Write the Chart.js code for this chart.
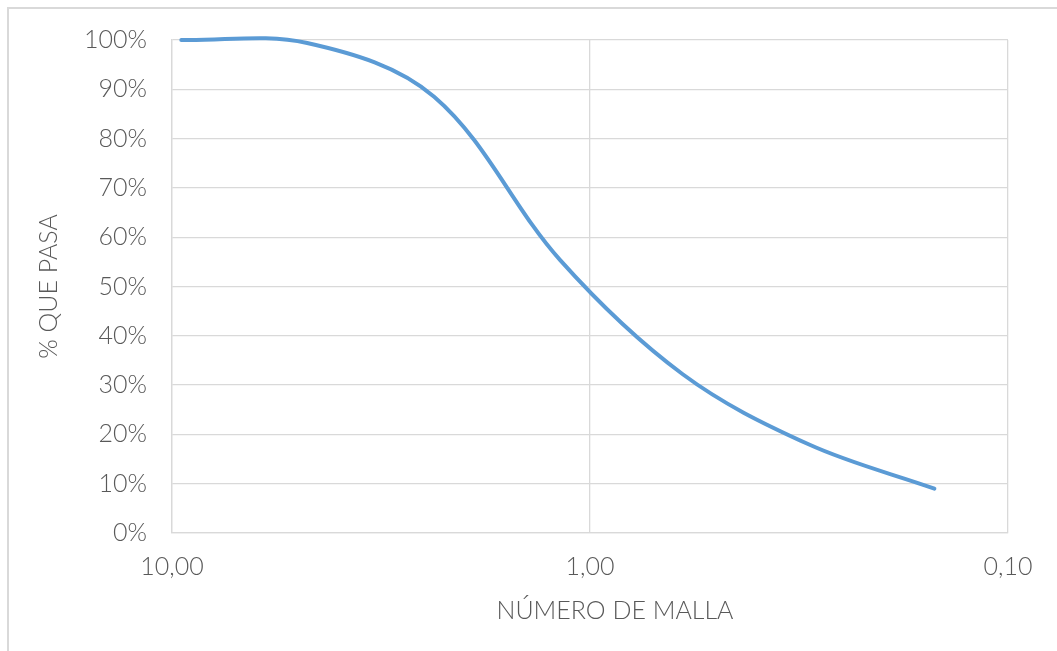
<!DOCTYPE html>
<html>
<head>
<meta charset="utf-8">
<script src="https://cdn.jsdelivr.net/npm/chart.js@4/dist/chart.umd.min.js"></script>
<style>
  html, body { margin: 0; padding: 0; background: #fff; }
  #wrap { position: absolute; left: 0; top: 0; width: 1057px; height: 651px; }
  #frame { position: absolute; left: 7px; top: 7px; width: 1200px; height: 800px;
           border-left: 2px solid #d9d9d9; border-top: 2px solid #d9d9d9; box-sizing: border-box; }
  canvas { position: absolute; left: 0; top: 0; }
</style>
</head>
<body>
<div id="wrap">
  <div id="frame"></div>
  <canvas id="c" width="1057" height="651"></canvas>
</div>
<script>
// Sieve openings (mm) and percent passing
const sieveSizes = [9.5, 4.75, 2.36, 1.18, 0.6, 0.3, 0.15];
const percentPassing = [100, 99.4, 88.5, 55.4, 32.2, 18, 9];
const xTickValues = [0.1, 1, 10];
const xTickLabels = { 0.1: '0,10', 1: '1,00', 10: '10,00' };
const yTitle = '% QUE PASA';
const xTitle = 'NÚMERO DE MALLA';

const FONT = 'Lato, "Open Sans", "DejaVu Sans", sans-serif';
const TEXT = '#595959';
const GRID = '#d9d9d9';

const points = sieveSizes.map((s, i) => ({ x: s, y: percentPassing[i] }));

const xTitlePlugin = {
  id: 'xTitlePlugin',
  afterDraw(chart) {
    const ctx = chart.ctx;
    const a = chart.chartArea;
    ctx.save();
    ctx.fillStyle = TEXT;
    ctx.font = '300 25px ' + FONT;
    ctx.textAlign = 'center';
    ctx.textBaseline = 'middle';
    ctx.fillText(xTitle, (a.left + a.right) / 2 + 25, a.bottom + 78);
    ctx.restore();
  }
};

new Chart(document.getElementById('c'), {
  type: 'scatter',
  data: {
    datasets: [{
      data: points,
      showLine: true,
      borderColor: '#5B9BD5',
      backgroundColor: '#5B9BD5',
      borderWidth: 4,
      borderCapStyle: 'round',
      pointRadius: 0,
      pointHoverRadius: 0,
      tension: 0.35,
      capBezierPoints: false,
      clip: false
    }]
  },
  options: {
    responsive: false,
    animation: false,
    layout: { padding: { left: 0, top: 37, right: 49, bottom: 0 } },
    plugins: { legend: { display: false }, tooltip: { enabled: false } },
    scales: {
      x: {
        type: 'logarithmic',
        reverse: true,
        min: 0.1,
        max: 10,
        afterBuildTicks(scale) { scale.ticks = xTickValues.map(v => ({ value: v })); },
        afterFit(scale) { scale.height = 651 - 533; },
        ticks: {
          autoSkip: false,
          maxRotation: 0,
          padding: 19,
          color: TEXT,
          font: { family: FONT, size: 25, weight: '300' },
          callback: (v) => xTickLabels[v] ?? ''
        },
        grid: { color: GRID, lineWidth: 1.3, drawTicks: false },
        border: { color: GRID, width: 1.3 }
      },
      y: {
        min: 0,
        max: 100,
        afterFit(scale) { scale.width = 172; },
        ticks: {
          stepSize: 10,
          padding: 25,
          color: TEXT,
          font: { family: FONT, size: 25, weight: '300' },
          callback: (v) => v + '%'
        },
        grid: { color: GRID, lineWidth: 1.3, drawTicks: false },
        border: { color: GRID, width: 1.3 },
        title: {
          display: true,
          text: yTitle,
          color: TEXT,
          font: { family: FONT, size: 25, weight: '300' },
          padding: { top: 34, bottom: 0 }
        }
      }
    }
  },
  plugins: [xTitlePlugin]
});
</script>
</body>
</html>
